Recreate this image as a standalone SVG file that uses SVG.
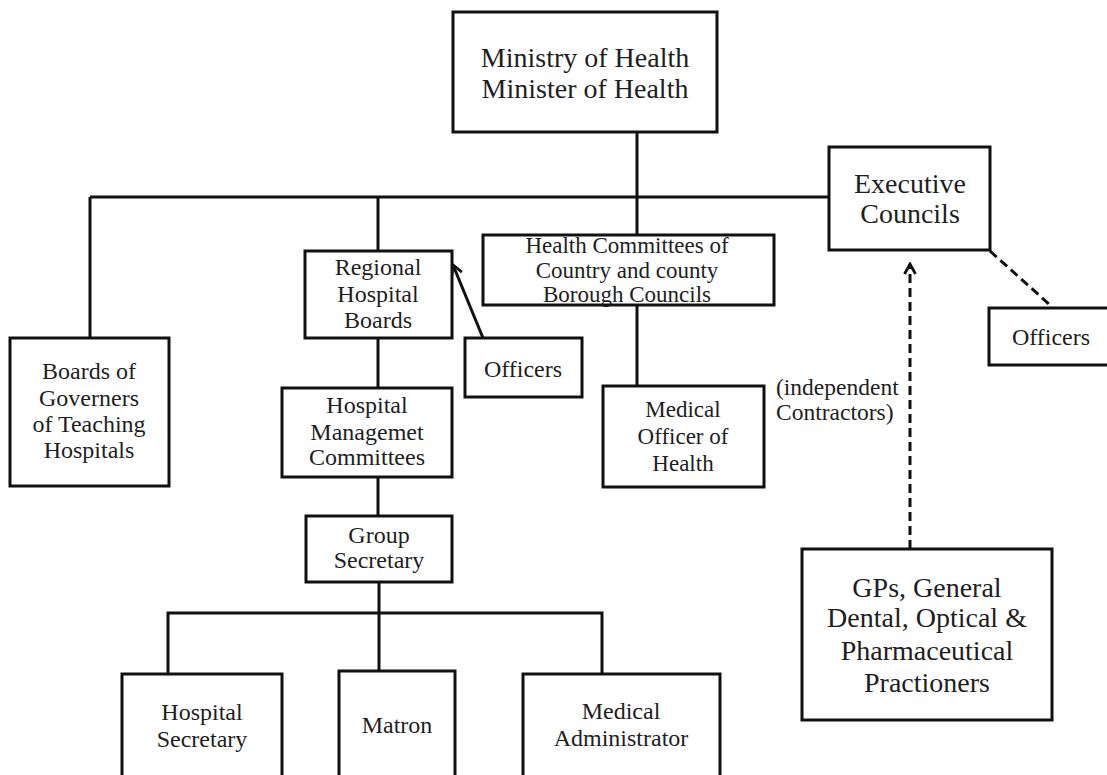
<svg xmlns="http://www.w3.org/2000/svg" width="1107" height="775" viewBox="0 0 1107 775">
<style>
.box{fill:#fff;stroke:#111;stroke-width:3}
.ln{fill:none;stroke:#111;stroke-width:3}
.dash{fill:none;stroke:#111;stroke-width:3;stroke-dasharray:9 5}
text{font-family:"Liberation Serif","Times New Roman",serif;fill:#1e1e1e;text-anchor:middle}
.big{font-size:28px}
.mid{font-size:24px}
.sm{font-size:23px}
.lbl{font-size:23.5px;text-anchor:start}
</style>
<defs>
<marker id="chev" viewBox="0 0 14 14" refX="12" refY="7" markerWidth="14" markerHeight="14" markerUnits="userSpaceOnUse" orient="auto">
<path d="M2,1.5 L12,7 L2,12.5" fill="none" stroke="#111" stroke-width="2.8"/>
</marker>
</defs>
<rect width="1107" height="775" fill="#fff"/>
<g id="connectors">
<line class="ln" x1="637" y1="132" x2="637" y2="236"/>
<line class="ln" x1="90" y1="197" x2="829" y2="197"/>
<line class="ln" x1="90" y1="197" x2="90" y2="338"/>
<line class="ln" x1="378" y1="197" x2="378" y2="251"/>
<line class="ln" x1="378" y1="338" x2="378" y2="388"/>
<line class="ln" x1="378" y1="477" x2="378" y2="516"/>
<line class="ln" x1="637" y1="305" x2="637" y2="386"/>
<line class="ln" x1="379" y1="582" x2="379" y2="671"/>
<polyline class="ln" points="168,674 168,613 602,613 602,674"/>
<line class="ln" x1="483" y1="338" x2="453" y2="265" marker-end="url(#chev)"/>
<line class="dash" x1="910" y1="549" x2="910" y2="264" marker-end="url(#chev)"/>
<line class="dash" x1="990" y1="251" x2="1050" y2="305"/>
</g>
<g id="ministry">
<rect class="box" x="453" y="12" width="264" height="120"/>
<text class="big" x="585" y="67">Ministry of Health</text>
<text class="big" x="585" y="98">Minister of Health</text>
</g>
<g id="executive-councils">
<rect class="box" x="829" y="147" width="161" height="103"/>
<text class="big" x="910" y="193">Executive</text>
<text class="big" x="910" y="223">Councils</text>
</g>
<g id="officers-right">
<rect class="box" x="989" y="308" width="130" height="57"/>
<text class="mid" x="1051" y="345">Officers</text>
</g>
<g id="health-committees">
<rect class="box" x="483" y="235" width="291" height="70"/>
<text class="sm" x="627" y="253">Health Committees of</text>
<text class="sm" x="627" y="278">Country and county</text>
<text class="sm" x="627" y="302">Borough Councils</text>
</g>
<g id="regional-hospital-boards">
<rect class="box" x="305" y="251" width="147" height="87"/>
<text class="mid" x="378" y="275">Regional</text>
<text class="mid" x="378" y="302">Hospital</text>
<text class="mid" x="378" y="328">Boards</text>
</g>
<g id="officers-middle">
<rect class="box" x="465" y="338" width="117" height="59"/>
<text class="mid" x="523" y="377">Officers</text>
</g>
<g id="boards-of-governers">
<rect class="box" x="10" y="338" width="159" height="148"/>
<text class="mid" x="89" y="379">Boards of</text>
<text class="mid" x="89" y="406">Governers</text>
<text class="mid" x="89" y="432">of Teaching</text>
<text class="mid" x="89" y="458">Hospitals</text>
</g>
<g id="medical-officer">
<rect class="box" x="603" y="386" width="161" height="101"/>
<text class="sm" x="683" y="417">Medical</text>
<text class="sm" x="683" y="444">Officer of</text>
<text class="sm" x="683" y="471">Health</text>
</g>
<g id="independent-label">
<text class="lbl" x="776" y="395">(independent</text>
<text class="lbl" x="776" y="420">Contractors)</text>
</g>
<g id="hospital-management">
<rect class="box" x="282" y="388" width="170" height="89"/>
<text class="mid" x="367" y="413">Hospital</text>
<text class="mid" x="367" y="440">Managemet</text>
<text class="mid" x="367" y="465">Committees</text>
</g>
<g id="group-secretary">
<rect class="box" x="306" y="516" width="146" height="66"/>
<text class="mid" x="379" y="543">Group</text>
<text class="mid" x="379" y="568">Secretary</text>
</g>
<g id="gps">
<rect class="box" x="802" y="549" width="250" height="171"/>
<text class="big" x="927" y="597">GPs, General</text>
<text class="big" x="927" y="627">Dental, Optical &amp;</text>
<text class="big" x="927" y="660">Pharmaceutical</text>
<text class="big" x="927" y="692">Practioners</text>
</g>
<g id="hospital-secretary">
<rect class="box" x="122" y="674" width="160" height="120"/>
<text class="mid" x="202" y="720">Hospital</text>
<text class="mid" x="202" y="747">Secretary</text>
</g>
<g id="matron">
<rect class="box" x="339" y="671" width="116" height="120"/>
<text class="mid" x="397" y="733">Matron</text>
</g>
<g id="medical-administrator">
<rect class="box" x="523" y="674" width="197" height="120"/>
<text class="mid" x="621" y="719">Medical</text>
<text class="mid" x="621" y="746">Administrator</text>
</g>
</svg>
